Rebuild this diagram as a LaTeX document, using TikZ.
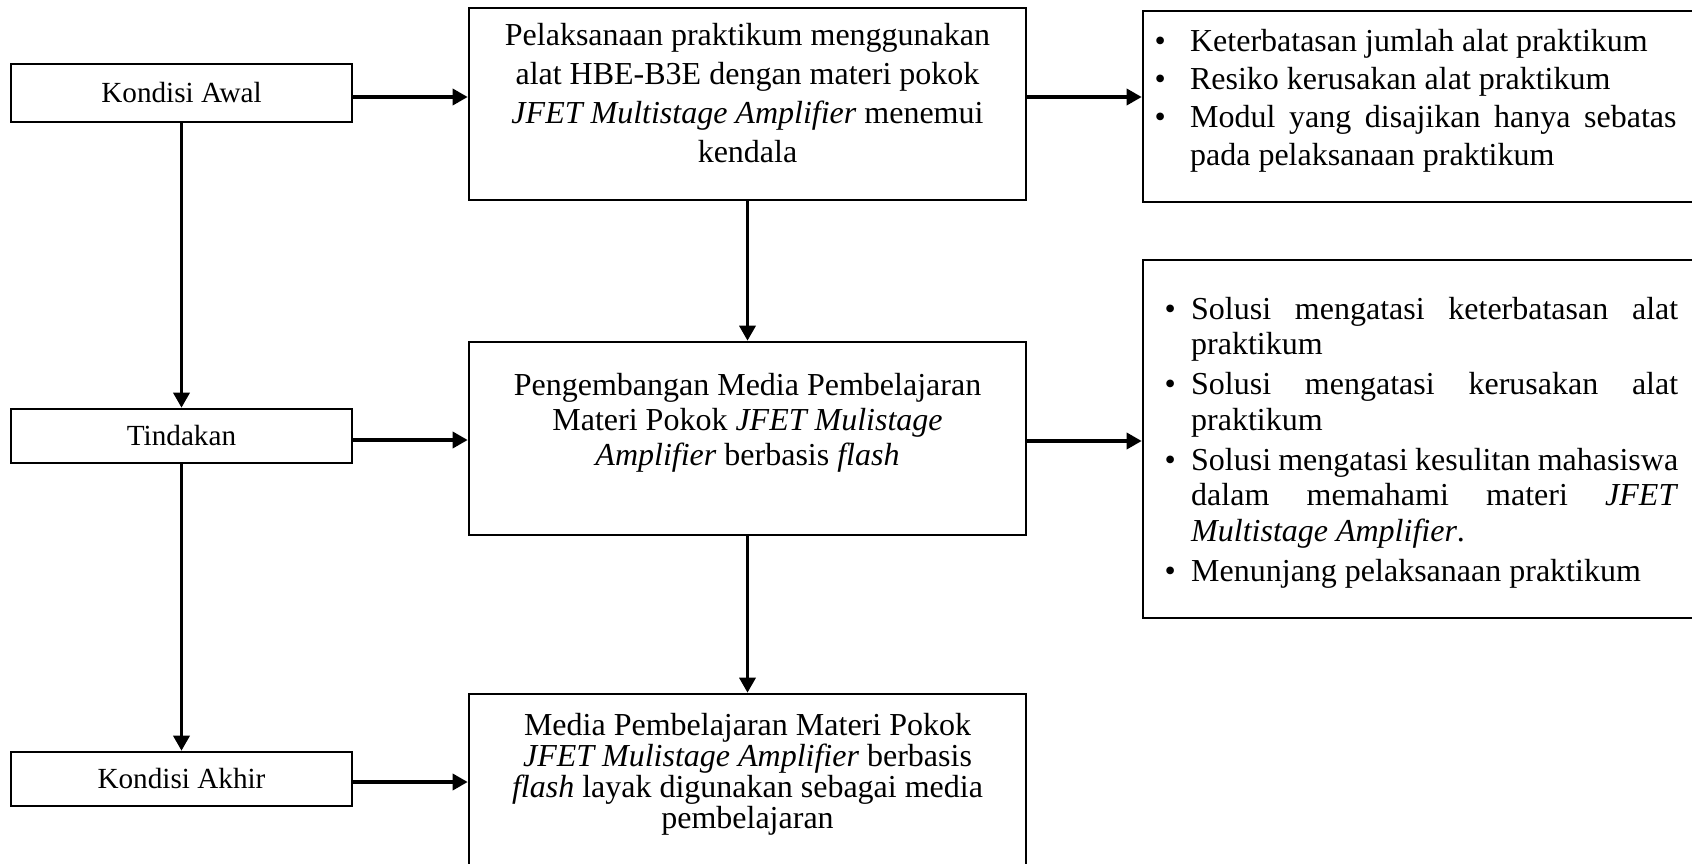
\documentclass[tikz,border=0pt]{standalone}
\usepackage{fontspec}
\setmainfont{Liberation Serif}
\usetikzlibrary{arrows.meta}
\tikzset{
  box/.style={draw, line width=2.6pt, inner sep=0pt},
  arr/.style={line width=3.4pt, -{Triangle[length=15pt,width=16pt]}},
  lbl/.style={font=\fontsize{29.2}{35}\selectfont},
  txt/.style={inner sep=0pt},
}
\newcommand{\midfont}[1]{\fontsize{32}{#1}\selectfont}
\newcommand{\bul}[1]{\hangindent=#1\hangafter=1\noindent\makebox[#1][l]{\textbullet}}
\begin{document}
\begin{tikzpicture}[x=1pt,y=-1pt]
\fill[white] (0,0) rectangle (1692,864);
\useasboundingbox (0,0) rectangle (1692,864);
\clip (0,0) rectangle (1692,864);

% left column
\node[box, lbl, minimum width=341pt, minimum height=58pt] (ka) at (181.5,93) {Kondisi Awal};
\node[box, lbl, minimum width=341pt, minimum height=54pt] (tn) at (181.5,436) {Tindakan};
\node[box, lbl, minimum width=341pt, minimum height=54pt] (kk) at (181.5,779) {Kondisi Akhir};

% middle column
\node[box, minimum width=557pt, minimum height=192pt] (m1) at (747.5,104) {};
\node[box, minimum width=557pt, minimum height=193pt] (m2) at (747.5,438.5) {};
\node[box, minimum width=557pt, minimum height=300pt] (m3) at (747.5,844) {};

% right column
\node[box, minimum width=600pt, minimum height=191pt] (r1) at (1443,106.5) {};
\node[box, minimum width=600pt, minimum height=358pt] (r2) at (1443,439) {};

% texts
\node[txt, anchor=base] (m1t) at (747.5,46) {\parbox[t]{557pt}{\centering\midfont{39}%
Pelaksanaan praktikum menggunakan\\
alat HBE-B3E dengan materi pokok\\
\textit{JFET Multistage Amplifier} menemui\\
kendala}};

\node[txt, anchor=base] (m2t) at (747.5,395) {\parbox[t]{557pt}{\centering\midfont{35}%
Pengembangan Media Pembelajaran\\
Materi Pokok \textit{JFET Mulistage}\\
\textit{Amplifier} berbasis \textit{flash}}};

\node[txt, anchor=base] (m3t) at (747.5,735) {\parbox[t]{557pt}{\centering\midfont{31}%
Media Pembelajaran Materi Pokok\\
\textit{JFET Mulistage Amplifier} berbasis\\
\textit{flash} layak digunakan sebagai media\\
pembelajaran}};

\node[txt, anchor=base west] (r1t) at (1154.4,52) {\parbox[t]{522pt}{\midfont{37.7}\parindent=0pt\parskip=0pt\tolerance=10000
\bul{35.5pt}Keterbatasan jumlah alat praktikum\par
\bul{35.5pt}Resiko kerusakan alat praktikum\par
\bul{35.5pt}Modul yang disajikan hanya sebatas\linebreak pada pelaksanaan praktikum\par}};

\node[txt, anchor=base west] (r2t) at (1164.4,319) {\parbox[t]{513.6pt}{\midfont{35.5}\parindent=0pt\parskip=4.5pt\tolerance=10000
\bul{26.6pt}Solusi mengatasi keterbatasan alat\linebreak praktikum\par
\bul{26.6pt}Solusi mengatasi kerusakan alat\linebreak praktikum\par
\bul{26.6pt}Solusi mengatasi kesulitan mahasiswa\linebreak dalam memahami materi \textit{JFET}\linebreak \textit{Multistage Amplifier}.\par
\bul{26.6pt}Menunjang pelaksanaan praktikum\par}};

% connectors
\coordinate (c1) at ([yshift=-4pt]ka.east);
\coordinate (c2) at ([yshift=7pt]m1.east);
\coordinate (c3) at ([yshift=-4pt]tn.east);
\coordinate (c4) at ([yshift=-2.5pt]m2.east);
\coordinate (c5) at ([yshift=-3pt]kk.east);
\draw[arr] (c1) -- (c1 -| m1.west);
\draw[arr] (c2) -- (c2 -| r1.west);
\draw[arr] (c3) -- (c3 -| m2.west);
\draw[arr] (c4) -- (c4 -| r2.west);
\draw[arr] (c5) -- (c5 -| m3.west);
\draw[arr] (ka.south) -- (tn.north);
\draw[arr] (tn.south) -- (kk.north);
\draw[arr] (m1.south) -- (m2.north);
\draw[arr] (m2.south) -- (m3.north);
\end{tikzpicture}
\end{document}
